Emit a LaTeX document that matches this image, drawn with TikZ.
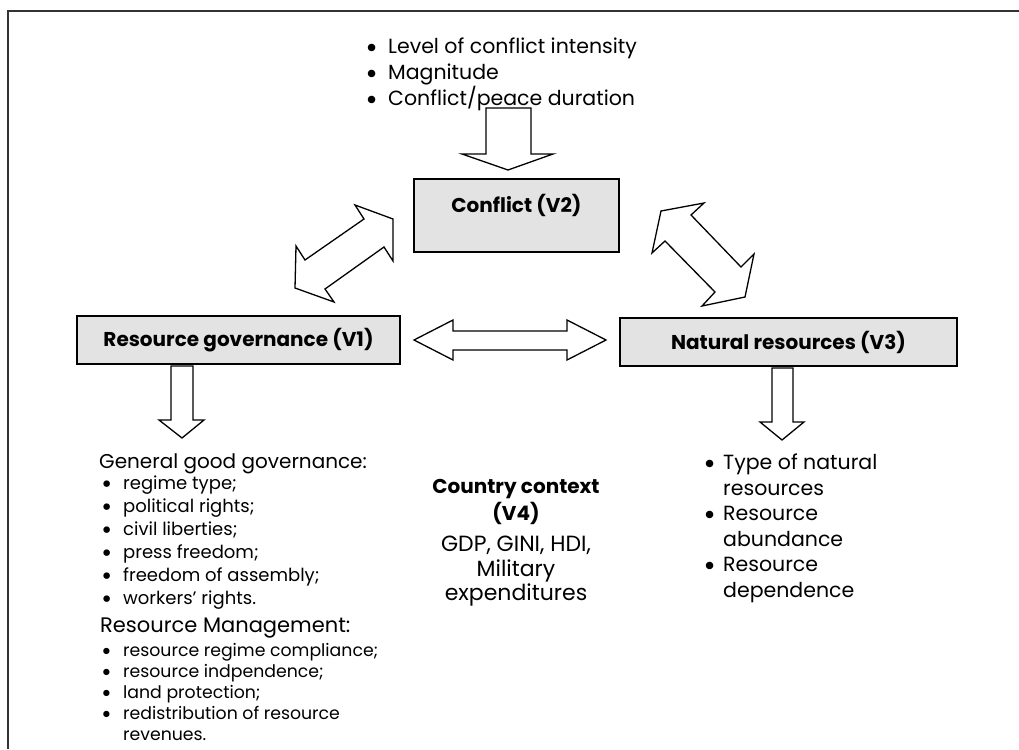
\documentclass[tikz,border=0pt]{standalone}
\usepackage{fontspec}
\setmainfont{Poppins}
\newfontfamily\dejavu{DejaVu Sans}
\newcommand\bu[1]{\makebox[#1][l]{\hspace*{-4pt}\raisebox{-0.17em}{\scalebox{1.25}{\dejavu\textbullet}}}}
\begin{document}
\begin{tikzpicture}[x=1pt,y=-1pt,
  frame/.style={draw=black!80, line width=1.6pt},
  box/.style={draw=black, line width=1.6pt, fill=gray!22, inner sep=0pt,
    font=\fontsize{20}{24}\selectfont\bfseries},
  boxlabel/.style={inner sep=0pt, font=\fontsize{20}{24}\selectfont\bfseries},
  blockarrow/.style={draw=black, line width=1.3pt, fill=white, line join=miter},
  bigtxt/.style={font=\fontsize{20.5}{26}\selectfont, align=left, inner sep=0pt, anchor=north west},
  onetxt/.style={font=\fontsize{21}{26}\selectfont, inner sep=0pt, anchor=base west},
  midtxt/.style={font=\fontsize{18}{23}\selectfont, align=left, inner sep=0pt, anchor=north west},
  smalltxt/.style={font=\fontsize{17.3}{21}\selectfont, align=left, inner sep=0pt, anchor=north west},
  ctxt/.style={font=\fontsize{20}{26}\selectfont, align=center, inner sep=0pt, anchor=north}
]
\useasboundingbox (0,0) rectangle (1019,749);
\draw[frame] (8,749) -- (8,11) -- (1019,11);

% boxes
\node[box, minimum width=205pt, minimum height=73pt] (v2) at (516.5,215.5) {};
\node[boxlabel] (v2t) at (516.5,205) {Conflict (V2)};
\node[box, minimum width=323pt, minimum height=48pt] (v1) at (238.5,340) {Resource governance (V1)};
\node[box, minimum width=337pt, minimum height=48pt] (v3) at (788.5,342) {Natural resources (V3)};

% block arrows
\draw[blockarrow] (486,108) -- (531,108) -- (531,154) -- (553,154) -- (508,170) -- (462,154) -- (486,154) -- cycle;
\draw[blockarrow] (171,366) -- (193,366) -- (193,420) -- (204,420) -- (182,438) -- (159,420) -- (171,420) -- cycle;
\draw[blockarrow] (772,368) -- (793,368) -- (793,422) -- (804,422) -- (782,440) -- (760,422) -- (772,422) -- cycle;
\draw[blockarrow] (414,340) -- (453,320) -- (453,331) -- (567,331) -- (567,320) -- (606,340)
  -- (567,360) -- (567,350) -- (453,350) -- (453,360) -- cycle;
\draw[blockarrow] (393,219) -- (393,261) -- (384,247) -- (325,289) -- (334,302) -- (295,288)
  -- (296,246) -- (305,260) -- (364,219) -- (355,205) -- cycle;
\draw[blockarrow] (704,203) -- (691,215) -- (741,267) -- (754,254) -- (745,297) -- (702,306)
  -- (715,292) -- (665,241) -- (652,253) -- (661,211) -- cycle;

% texts
\node[bigtxt] (t2) at (368,35.4) {\strut\bu{20pt}Level of conflict intensity\\ \bu{20pt}Magnitude\\ \bu{20pt}Conflict/peace duration};
\node[onetxt, font=\fontsize{20}{26}\selectfont] (t1a) at (99,468.5) {General good governance:};
\node[midtxt] (t1b) at (104,473.5) {\strut\bu{19pt}regime type;\\ \bu{19pt}political rights;\\ \bu{19pt}civil liberties;\\ \bu{19pt}press freedom;\\ \bu{19pt}freedom of assembly;\\ \bu{19pt}workers’ rights.};
\node[onetxt] (t1c) at (100,632.6) {Resource Management:};
\node[smalltxt] (t1d) at (104,642) {\strut\bu{19pt}resource regime compliance;\\ \bu{19pt}resource indpendence;\\ \bu{19pt}land protection;\\ \bu{19pt}redistribution of resource\\ \hspace*{19pt}revenues.};
\node[ctxt] (t4a) at (516,475.3) {\strut\bfseries Country context\\ \bfseries (V4)};
\node[ctxt, font=\fontsize{22}{24.5}\selectfont] (t4b) at (516,534.3) {\strut GDP, GINI, HDI,\\ Military\\ expenditures};
\node[bigtxt, font=\fontsize{20.5}{25.5}\selectfont] (t3) at (706,451.8) {\strut\bu{17pt}Type of natural\\ \hspace*{17pt}resources\\ \bu{17pt}Resource\\ \hspace*{17pt}abundance\\ \bu{17pt}Resource\\ \hspace*{17pt}dependence};
\end{tikzpicture}
\end{document}
